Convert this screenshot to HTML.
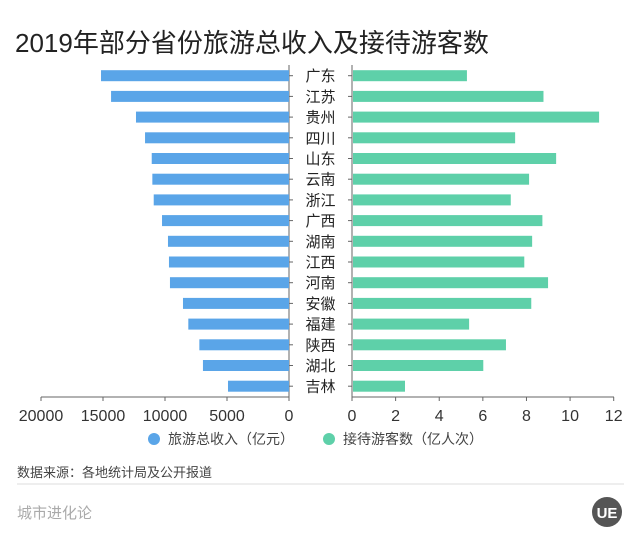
<!DOCTYPE html>
<html><head><meta charset="utf-8">
<style>
body{margin:0;width:640px;height:544px;background:#fff;overflow:hidden;font-family:"Liberation Sans","Noto Sans CJK SC",sans-serif;}
svg text{font-family:"Liberation Sans","Noto Sans CJK SC",sans-serif;}
</style></head>
<body>
<svg width="640" height="544">
<text x="15" y="52" font-size="26" fill="#222">2019年部分省份旅游总收入及接待游客数</text>
<g id="plot"></g>
<g>
<g><circle cx="154" cy="439" r="6" fill="#5aa5e8"/><text x="168" y="444" font-size="14" fill="#444">旅游总收入（亿元）</text></g>
<g><circle cx="329" cy="439" r="6" fill="#5ed0a9"/><text x="343" y="444" font-size="14" fill="#444">接待游客数（亿人次）</text></g>
</g>
<text x="17" y="477" font-size="13" fill="#444">数据来源：各地统计局及公开报道</text>
<line x1="17" y1="484" x2="624" y2="484" stroke="#ddd" stroke-width="1"/>
<text x="17" y="518" font-size="15" fill="#aaa">城市进化论</text>
<g><circle cx="607" cy="512" r="15" fill="#555"/><text x="607" y="518" font-size="15" font-weight="bold" fill="#fff" text-anchor="middle">UE</text></g>
</svg>
<script>
const categories=["广东","江苏","贵州","四川","山东","云南","浙江","广西","湖南","江西","河南","安徽","福建","陕西","湖北","吉林"];
const incomeValues=[15160,14350,12340,11610,11070,11020,10910,10240,9760,9680,9600,8550,8120,7230,6940,4920];
const visitorValues=[5.27,8.78,11.33,7.48,9.36,8.12,7.28,8.73,8.26,7.9,8.99,8.22,5.37,7.06,6.02,2.43];
const incomeTicks=[20000,15000,10000,5000,0];
const visitorTicks=[0,2,4,6,8,10,12];
const NS="http://www.w3.org/2000/svg";
const g=document.getElementById('plot');
const lx=v=>289-(v/20000)*248;
const rx=v=>352+(v/12)*261.7;
const y0=75.7, step=20.7, axisY=397, bh=11;
const cy=i=>y0+i*step;
function mk(t,a){const e=document.createElementNS(NS,t);for(const k in a)e.setAttribute(k,a[k]);g.appendChild(e);return e;}
// axes
let e=mk('line',{x1:289,y1:65,x2:289,y2:axisY,stroke:'#666'});


e=mk('line',{x1:41,y1:axisY,x2:289,y2:axisY,stroke:'#666'});


e=mk('line',{x1:352,y1:65,x2:352,y2:axisY,stroke:'#666'});


e=mk('line',{x1:352,y1:axisY,x2:614,y2:axisY,stroke:'#666'});


categories.forEach((c,i)=>{
  const y=cy(i);
  mk('line',{x1:289,y1:y,x2:293,y2:y,stroke:'#666'});
  mk('line',{x1:348,y1:y,x2:352,y2:y,stroke:'#666'});
  let b=mk('rect',{x:lx(incomeValues[i]),y:y-bh/2,width:289-lx(incomeValues[i]),height:bh,fill:'#5aa5e8'});
  
  
  b=mk('rect',{x:353,y:y-bh/2,width:rx(visitorValues[i])-353,height:bh,fill:'#5ed0a9'});
  
  
  const t=mk('text',{x:320.5,y:y+5.5,'font-size':15,fill:'#222','text-anchor':'middle'});
  t.textContent=c;
  
  
});
incomeTicks.forEach(v=>{
  const x=lx(v);
  mk('line',{x1:x,y1:axisY,x2:x,y2:axisY+4,stroke:'#666'});
  const t=mk('text',{x:x,y:421,'font-size':16,fill:'#333','text-anchor':'middle'});
  t.textContent=v;
  
  
});
visitorTicks.forEach(v=>{
  const x=rx(v);
  mk('line',{x1:x,y1:axisY,x2:x,y2:axisY+4,stroke:'#666'});
  const t=mk('text',{x:x,y:421,'font-size':16,fill:'#333','text-anchor':'middle'});
  t.textContent=v;
  
  
});
</script>
</body></html>
